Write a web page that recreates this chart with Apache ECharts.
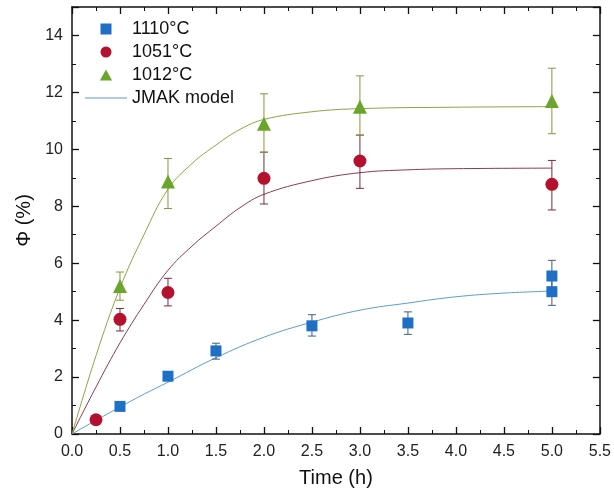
<!DOCTYPE html>
<html>
<head>
<meta charset="utf-8">
<script src="https://cdn.jsdelivr.net/npm/echarts@6/dist/echarts.min.js"></script>
<style>
  html, body { margin: 0; padding: 0; background: #fff; }
  #chart { width: 614px; height: 497px; }
</style>
</head>
<body>
<div id="chart"></div>
<script>
  // measured points [time, value, errLow, errHigh]
  let pts1110 = [
    [0.5, 0.97, 0.85, 1.1],
    [1.0, 2.03, 1.88, 2.18],
    [1.5, 2.92, 2.63, 3.19],
    [2.5, 3.8, 3.44, 4.19],
    [3.5, 3.9, 3.5, 4.29],
    [5.0, 5.0, 4.52, 5.5],
    [5.0, 5.55, 5.05, 6.1]
  ]
  let pts1051 = [
    [0.25, 0.5, 0.42, 0.58],
    [0.5, 4.03, 3.62, 4.41],
    [1.0, 4.97, 4.5, 5.47],
    [2.0, 8.98, 8.08, 9.9],
    [3.0, 9.59, 8.63, 10.5],
    [5.0, 8.77, 7.87, 9.61]
  ]
  let pts1012 = [
    [0.5, 5.2, 4.7, 5.69],
    [1.0, 8.87, 7.92, 9.68],
    [2.0, 10.9, 9.9, 11.95],
    [3.0, 11.5, 10.5, 12.58],
    [5.0, 11.7, 10.55, 12.85]
  ]
  // JMAK model curves
  let fit1110 = [[0, 0], [0.25, 0.48], [0.5, 0.95], [0.75, 1.4], [1, 1.82], [1.5, 2.68], [2, 3.4], [2.5, 3.93], [3, 4.35], [3.5, 4.6], [4, 4.82], [4.5, 4.95], [5, 5.02]]
  let fit1051 = [[0, 0], [0.25, 1.65], [0.5, 3.2], [0.75, 4.55], [1, 5.75], [1.25, 6.6], [1.5, 7.3], [1.75, 7.95], [2, 8.42], [2.5, 8.9], [3, 9.18], [3.5, 9.28], [4, 9.32], [5, 9.34]]
  let fit1012 = [[0, 0], [0.25, 2.75], [0.5, 5.13], [0.75, 7.0], [1, 8.6], [1.25, 9.5], [1.5, 10.15], [1.75, 10.7], [2, 11.05], [2.5, 11.32], [3, 11.43], [4, 11.48], [5, 11.5]]

  let myChart = echarts.init(document.getElementById('chart'))

  // error bar drawing through the axis scales
  function errorBars (color) {
    return function (params, api) {
      let x = api.value(0)
      let lo = api.coord([x, api.value(2)])
      let hi = api.coord([x, api.value(3)])
      let cap = 4
      let style = { stroke: color, lineWidth: 1 }
      return {
        type: 'group',
        children: [
          { type: 'line', shape: { x1: lo[0], y1: lo[1], x2: hi[0], y2: hi[1] }, style: style },
          { type: 'line', shape: { x1: lo[0] - cap, y1: lo[1], x2: lo[0] + cap, y2: lo[1] }, style: style },
          { type: 'line', shape: { x1: hi[0] - cap, y1: hi[1], x2: hi[0] + cap, y2: hi[1] }, style: style }
        ]
      }
    }
  }

  let font = 'Liberation Sans, Arial, sans-serif'
  let axisCommon = {
    min: 0,
    axisLine: { show: true, onZero: false, lineStyle: { color: '#111', width: 1.5 } },
    axisTick: { show: true, inside: true, length: 7, lineStyle: { color: '#111', width: 1.3 } },
    minorTick: { show: true, splitNumber: 2, length: 4, lineStyle: { color: '#111', width: 1 } },
    splitLine: { show: false }
  }

  myChart.setOption({
    animation: false,
    grid: { left: 72, right: 13, top: 7, bottom: 63 },
    legend: {
      orient: 'vertical',
      left: 80,
      top: 15,
      itemWidth: 42,
      itemHeight: 11,
      itemGap: 5,
      symbolKeepAspect: true,
      data: [
        { name: '1110°C', icon: 'path://M0,0L1,0L1,1L0,1Z' },
        { name: '1051°C', icon: 'circle' },
        { name: '1012°C', icon: 'path://M0.5,0L1,0.9L0,0.9Z' },
        { name: 'JMAK model', icon: 'path://M0,0L42,0L42,1L0,1Z' }
      ],
      textStyle: { fontFamily: font, fontSize: 18, color: '#111', lineHeight: 18 }
    },
    xAxis: [
      Object.assign({}, axisCommon, {
        type: 'value',
        max: 5.5,
        interval: 0.5,
        position: 'bottom',
        name: 'Time (h)',
        nameLocation: 'middle',
        nameGap: 34,
        nameTextStyle: { fontFamily: font, fontSize: 20, color: '#111' },
        axisLabel: { fontFamily: font, fontSize: 16, color: '#222', margin: 10, formatter: v => v.toFixed(1) }
      }),
      Object.assign({}, axisCommon, {
        type: 'value',
        max: 5.5,
        interval: 0.5,
        position: 'top',
        axisLabel: { show: false }
      })
    ],
    yAxis: [
      Object.assign({}, axisCommon, {
        type: 'value',
        max: 15,
        interval: 2,
        position: 'left',
        name: 'Φ (%)',
        nameLocation: 'middle',
        nameGap: 33,
        nameTextStyle: { fontFamily: font, fontSize: 20, color: '#111' },
        axisLabel: { fontFamily: font, fontSize: 16, color: '#222', margin: 9, showMaxLabel: false }
      }),
      Object.assign({}, axisCommon, {
        type: 'value',
        max: 15,
        interval: 2,
        position: 'right',
        axisLabel: { show: false }
      })
    ],
    series: [
      { name: 'JMAK model', type: 'line', data: fit1110, smooth: 0.4, symbol: 'none', z: 1, lineStyle: { color: '#5a9ec9', width: 1 }, itemStyle: { color: '#5a9ec9' } },
      { name: 'JMAK model', type: 'line', data: fit1051, smooth: 0.4, symbol: 'none', z: 1, lineStyle: { color: '#8a3a55', width: 1 }, itemStyle: { color: '#8a3a55' } },
      { name: 'JMAK model', type: 'line', data: fit1012, smooth: 0.4, symbol: 'none', z: 1, lineStyle: { color: '#8ba543', width: 1 }, itemStyle: { color: '#8ba543' } },
      { name: 'err1110', type: 'custom', renderItem: errorBars('#3d5f80'), data: pts1110, z: 2 },
      { name: 'err1051', type: 'custom', renderItem: errorBars('#7a2a3c'), data: pts1051, z: 2 },
      { name: 'err1012', type: 'custom', renderItem: errorBars('#7f9a3a'), data: pts1012, z: 2 },
      { name: '1110°C', type: 'scatter', symbol: 'rect', symbolSize: 11, data: pts1110, z: 3, itemStyle: { color: '#1f6fc4', opacity: 1 } },
      { name: '1051°C', type: 'scatter', symbol: 'circle', symbolSize: 13, data: pts1051, z: 3, itemStyle: { color: '#b3112e', opacity: 1 } },
      { name: '1012°C', type: 'scatter', symbol: 'triangle', symbolSize: 14, data: pts1012, z: 3, itemStyle: { color: '#6aa52c', opacity: 1 } }
    ]
  })
</script>
</body>
</html>
